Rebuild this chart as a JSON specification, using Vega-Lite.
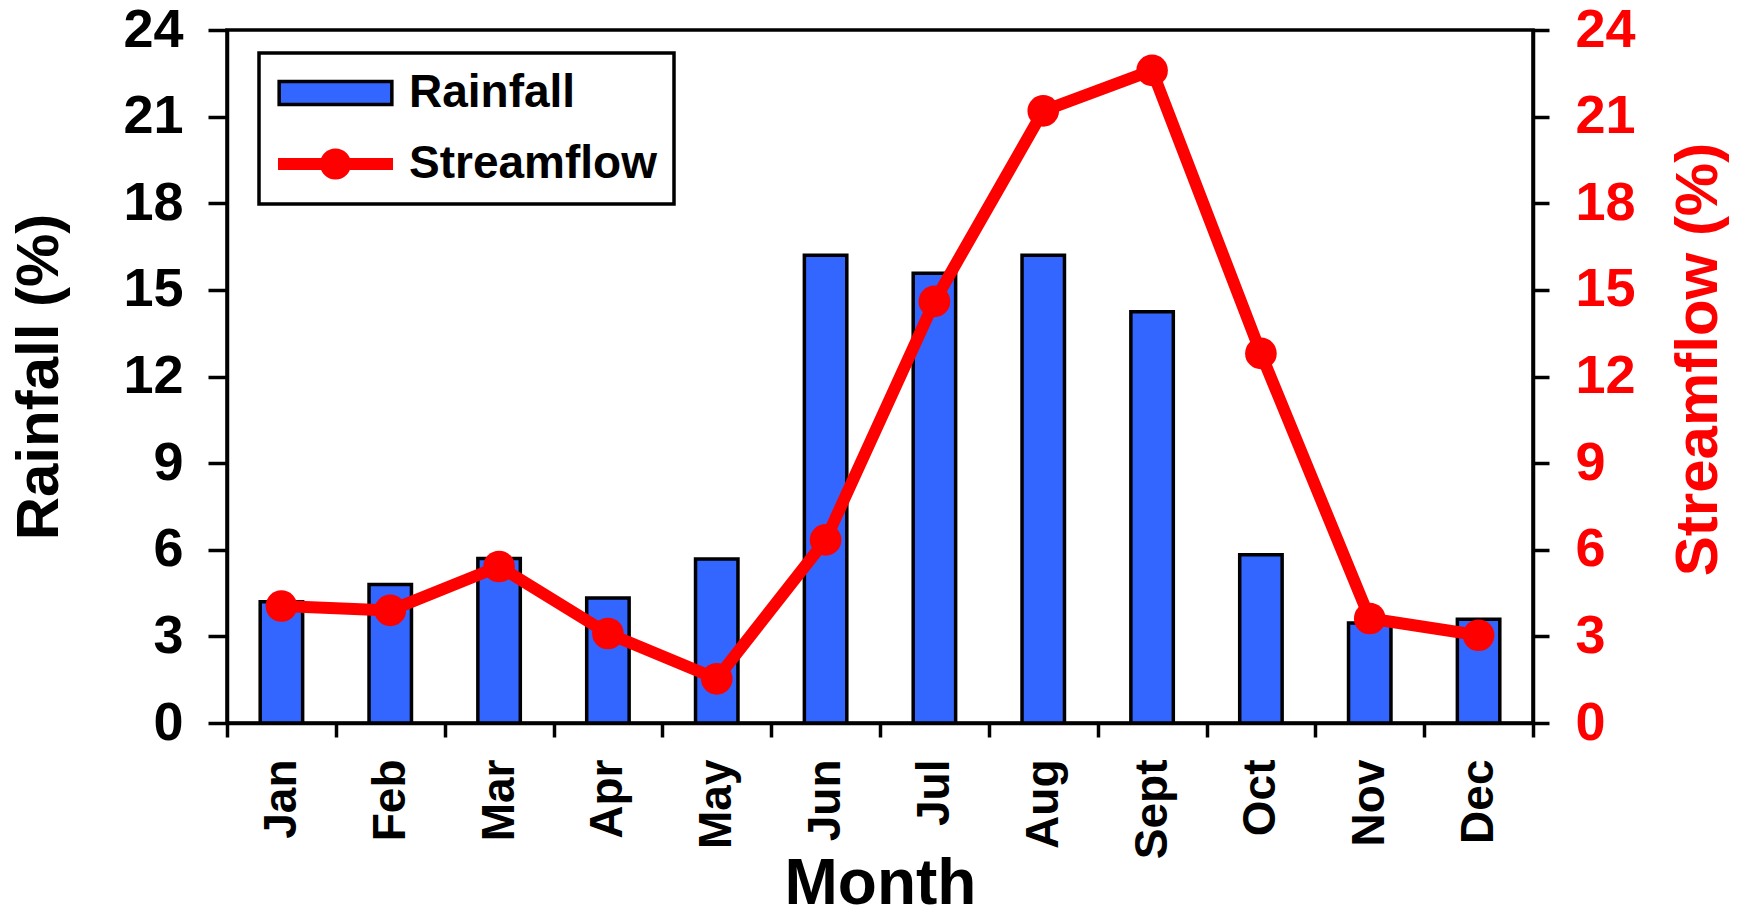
{
  "$schema": "https://vega.github.io/schema/vega-lite/v6.json",
  "width": 1306,
  "height": 693,
  "autosize": {"type": "none"},
  "padding": {"left": 227, "top": 30, "right": 211, "bottom": 187},
  "background": "white",
  "config": {
    "view": {"stroke": "black", "strokeWidth": 3.5},
    "font": "Liberation Sans",
    "legend": {"symbolOpacity": 1, "strokeWidth": 3.5},
    "axis": {
      "domainColor": "black",
      "domainWidth": 3.5,
      "tickColor": "black",
      "tickWidth": 3.5,
      "grid": false,
      "labelFont": "Liberation Sans",
      "labelFontWeight": "bold",
      "titleFont": "Liberation Sans",
      "titleFontWeight": "bold"
    }
  },
  "data": {
    "values": [
      {"month": "Jan", "rainfall": 4.2, "streamflow": 4.05},
      {"month": "Feb", "rainfall": 4.8, "streamflow": 3.9},
      {"month": "Mar", "rainfall": 5.7, "streamflow": 5.42},
      {"month": "Apr", "rainfall": 4.33, "streamflow": 3.1},
      {"month": "May", "rainfall": 5.68, "streamflow": 1.53},
      {"month": "Jun", "rainfall": 16.2, "streamflow": 6.34},
      {"month": "Jul", "rainfall": 15.58, "streamflow": 14.6},
      {"month": "Aug", "rainfall": 16.2, "streamflow": 21.2},
      {"month": "Sept", "rainfall": 14.24, "streamflow": 22.6},
      {"month": "Oct", "rainfall": 5.83, "streamflow": 12.8},
      {"month": "Nov", "rainfall": 3.46, "streamflow": 3.62},
      {"month": "Dec", "rainfall": 3.59, "streamflow": 3.04}
    ]
  },
  "encoding": {
    "x": {
      "field": "month",
      "type": "nominal",
      "sort": null,
      "scale": {"paddingInner": 0, "paddingOuter": 0},
      "axis": {
        "title": "Month",
        "labelAngle": 270,
        "tickBand": "extent",
        "tickSize": 14,
        "labelFontSize": 46,
        "labelColor": "black",
        "labelPadding": 22,
        "titleFontSize": 64,
        "titleColor": "black",
        "titlePadding": -6
      }
    }
  },
  "layer": [
    {
      "mark": {"type": "bar", "strokeWidth": 3.5, "width": {"band": 0.39}},
      "encoding": {
        "y": {
          "field": "rainfall",
          "type": "quantitative",
          "scale": {"domain": [0, 24], "nice": false},
          "axis": {
            "title": "Rainfall (%)",
            "values": [0, 3, 6, 9, 12, 15, 18, 21, 24],
            "tickSize": 19,
            "labelFontSize": 54,
            "labelPadding": 25,
            "labelColor": "black",
            "titleFontSize": 60,
            "titleColor": "black",
            "titlePadding": 52
          }
        },
        "fill": {
          "datum": "Rainfall",
          "type": "nominal",
          "scale": {"domain": ["Rainfall", "Streamflow"], "range": ["#3366FF", "#FF0000"]},
          "legend": {
            "orient": "none",
            "legendX": 32,
            "legendY": 23,
            "title": null,
            "padding": 17,
            "fillColor": "white",
            "strokeColor": "black",
            "symbolSize": 13225,
            "symbolStrokeWidth": 3.5,
            "clipHeight": 46,
            "labelFont": "Liberation Sans",
            "labelFontSize": 46,
            "labelFontWeight": "bold",
            "labelColor": "black",
            "labelOffset": 14,
            "labelLimit": 400,
            "rowPadding": 25
          }
        },
        "stroke": {
          "datum": "Rainfall",
          "type": "nominal",
          "scale": {"domain": ["Rainfall", "Streamflow"], "range": ["black", "#FF0000"]},
          "legend": {"title": null}
        }
      }
    },
    {
      "encoding": {
        "y": {
          "field": "streamflow",
          "type": "quantitative",
          "scale": {"domain": [0, 24], "nice": false},
          "axis": {
            "orient": "right",
            "title": "Streamflow (%)",
            "values": [0, 3, 6, 9, 12, 15, 18, 21, 24],
            "tickSize": 16,
            "labelFontSize": 54,
            "labelPadding": 26,
            "labelColor": "#FF0000",
            "titleFontSize": 60,
            "titleColor": "#FF0000",
            "titleAngle": 270,
            "titleBaseline": "top",
            "titlePadding": 34,
            "titleY": 329
          }
        }
      },
      "layer": [
        {
          "mark": {
            "type": "line",
            "color": "#FF0000",
            "strokeWidth": 12,
            "strokeJoin": "round",
            "point": {"filled": true, "size": 1000, "color": "#FF0000"}
          }
        },
        {
          "mark": {"type": "point", "filled": true, "opacity": 0, "size": 1000, "strokeWidth": 3.5},
          "encoding": {
            "fill": {"datum": "Streamflow", "type": "nominal"},
            "stroke": {"datum": "Streamflow", "type": "nominal"},
            "shape": {
              "datum": "Streamflow",
              "type": "nominal",
              "scale": {
                "domain": ["Rainfall", "Streamflow"],
                "range": [
                  "M-0.98,-0.2L0.98,-0.2L0.98,0.2L-0.98,0.2Z",
                  "M-0.97,-0.075L0.97,-0.075L0.97,0.075L-0.97,0.075Z M-0.24,0A0.24,0.24,0,1,1,0.24,0A0.24,0.24,0,1,1,-0.24,0Z"
                ]
              },
              "legend": {"title": null}
            }
          }
        }
      ]
    }
  ],
  "resolve": {"scale": {"y": "independent"}}
}
